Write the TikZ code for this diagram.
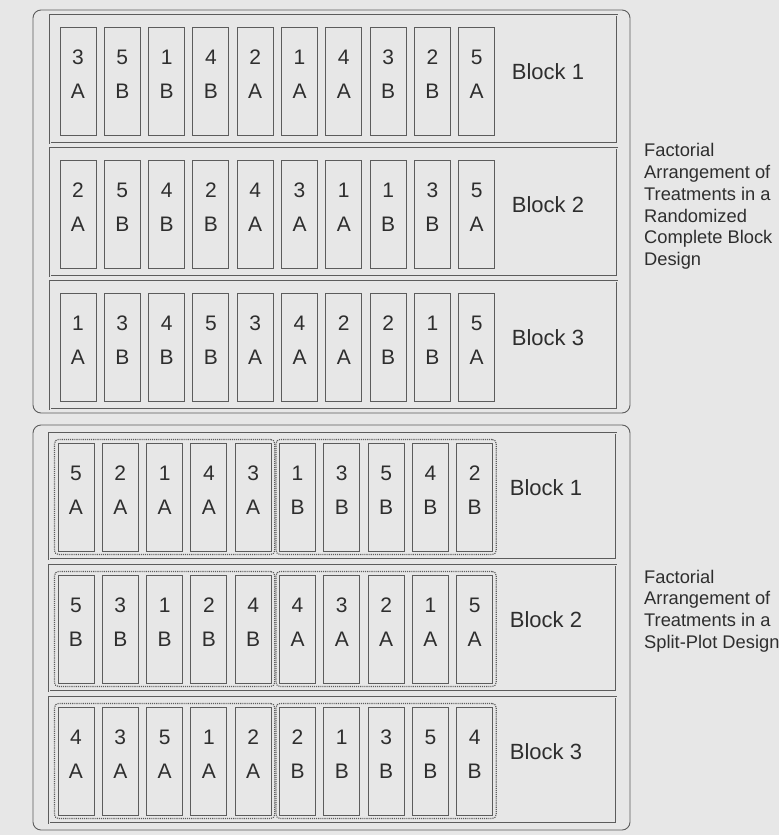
\documentclass[tikz,border=0pt]{standalone}
\usepackage{fontspec}
\setmainfont{Liberation Sans}
\usetikzlibrary{positioning, fit, calc}
\definecolor{bggray}{HTML}{E7E7E7}
\definecolor{linegray}{HTML}{5C5C5C}
\definecolor{textgray}{HTML}{2E2E2E}

\begin{document}
\begin{tikzpicture}[x=1pt, y=-1pt, node distance=8.3pt,
  design/.style={draw=linegray, line width=0.9pt, rounded corners=8pt, rectangle, minimum width=597pt, inner sep=0pt, outer sep=0pt},
  blockbox/.style={draw=linegray, double=bggray, double distance=0.6pt, line width=0.6pt, rectangle, minimum width=567pt, inner sep=0pt, outer sep=0pt},
  plot/.style={draw=linegray, line width=0.9pt, rectangle, align=center, minimum width=36pt, minimum height=108pt, inner sep=0pt, outer sep=0pt, text=textgray, font=\fontsize{21}{34}\selectfont, text depth=13pt},
  blocklab/.style={text=textgray, font=\fontsize{22}{26}\selectfont, inner sep=0pt},
  mainplot/.style={draw=linegray, densely dotted, line width=1.1pt, rounded corners=4pt, inner sep=3.5pt},
  caption/.style={text=textgray, align=left, inner sep=0pt, font=\fontsize{18.3}{21.7}\selectfont}]
\fill[bggray] (0,0) rectangle (779,835);
\useasboundingbox (0,0) rectangle (779,835);

% the two designs
\node (rcbd) [design, minimum height=403pt, anchor=north west] at (33,10) {};
\node (spd) [design, minimum height=405pt, anchor=north west] at (33,425) {};

% blocks
\node (rcb1) [blockbox, minimum height=128pt, anchor=north west] at (50,15) {};
\node (rcb2) [blockbox, minimum height=128pt, below=5pt of rcb1] {};
\node (rcb3) [blockbox, minimum height=128pt, below=5pt of rcb2] {};
\node (spb1) [blockbox, minimum height=126pt, anchor=north west] at (49,433) {};
\node (spb2) [blockbox, minimum height=126pt, below=6pt of spb1] {};
\node (spb3) [blockbox, minimum height=126pt, below=6pt of spb2] {};

% plots in each block
\foreach \b/\k/\dx/\dy/\plots in {
  rcb1/1/10/12/{3/A,5/B,1/B,4/B,2/A,1/A,4/A,3/B,2/B,5/A},
  rcb2/2/10/12/{2/A,5/B,4/B,2/B,4/A,3/A,1/A,1/B,3/B,5/A},
  rcb3/3/10/12/{1/A,3/B,4/B,5/B,3/A,4/A,2/A,2/B,1/B,5/A},
  spb1/1/9/10/{5/A,2/A,1/A,4/A,3/A,1/B,3/B,5/B,4/B,2/B},
  spb2/2/9/10/{5/B,3/B,1/B,2/B,4/B,4/A,3/A,2/A,1/A,5/A},
  spb3/3/9/10/{4/A,3/A,5/A,1/A,2/A,2/B,1/B,3/B,5/B,4/B}} {
  \foreach \n/\t [count=\i] in \plots {
    \ifnum\i=1
      \node (\b-p\i) [plot, anchor=north west] at ($(\b.north west)+(\dx,\dy)$) {\n\\\t};
    \else
      \pgfmathtruncatemacro{\j}{\i-1}
      \node (\b-p\i) [plot, right=of \b-p\j] {\n\\\t};
    \fi
  }
  \node (\b-lab) [blocklab, right=17pt of \b-p10, yshift=9pt] {Block \k};
}

% main plots of the split-plot design
\foreach \k in {1,2,3} {
  \node (spb\k-main1) [mainplot, fit=(spb\k-p1)(spb\k-p5)] {};
  \node (spb\k-main2) [mainplot, fit=(spb\k-p6)(spb\k-p10)] {};
}

\node (rcbcap) [caption, right=14pt of rcbd, yshift=5pt] {Factorial\\Arrangement of\\Treatments in a\\Randomized\\Complete Block\\Design};
\node (spcap) [caption, right=14pt of spd, yshift=16.5pt] {Factorial\\Arrangement of\\Treatments in a\\Split-Plot Design};
\end{tikzpicture}
\end{document}
